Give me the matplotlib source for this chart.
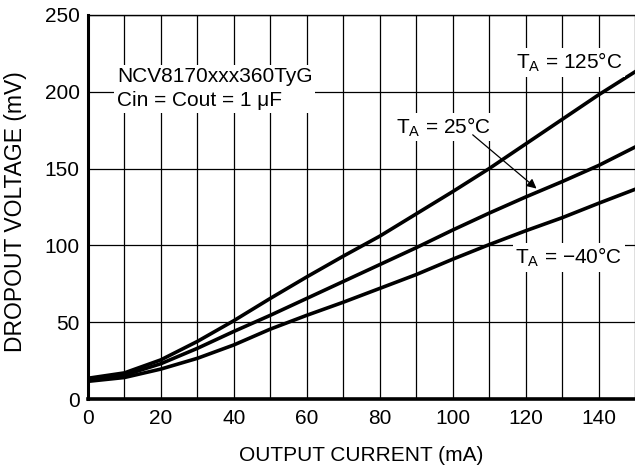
import numpy as np
import matplotlib
matplotlib.use("Agg")
import matplotlib.pyplot as plt

plt.rcParams['font.family'] = ['Liberation Sans', 'DejaVu Sans']
plt.rcParams['mathtext.fontset'] = 'custom'
plt.rcParams['mathtext.rm'] = 'Liberation Sans'
plt.rcParams['mathtext.it'] = 'Liberation Sans:italic'

# output current (mA)
i_out = [0, 10, 20, 30, 40, 50, 60, 70, 80, 90, 100, 110, 120, 130, 140, 150]
# dropout voltage (mV) per temperature
vdo_125 = [13.5, 17, 25.5, 37.5, 51, 65.5, 79.5, 93, 106, 120.5, 135, 150, 166, 182, 198, 213]
vdo_25 = [12.5, 15.5, 23, 33, 44, 54.5, 65.5, 76.5, 87.5, 98.5, 110, 121, 131.5, 141.5, 152, 164]
vdo_m40 = [11.5, 14, 19.5, 26.5, 35.2, 45.5, 54.5, 63, 72, 81, 91, 100.5, 109.5, 118, 127.4, 136.5]

xticks = [0, 20, 40, 60, 80, 100, 120, 140]
yticks = [0, 50, 100, 150, 200, 250]

fig = plt.figure(figsize=(6.35, 4.65), dpi=100)
ax = fig.add_axes([88/635, 66/465, 547/635, 384/465])

fs = 15
for v in (vdo_125, vdo_25, vdo_m40):
    ax.plot(i_out, v, color='black', lw=2.6, solid_joinstyle='round', zorder=3)

ax.set_xlim(0, 150)
ax.set_ylim(0, 250)
ax.set_xticks(xticks)
ax.set_yticks(yticks)
ax.set_xticks(np.arange(0, 151, 10), minor=True)
ax.grid(which='major', axis='y', color='black', lw=0.9)
ax.grid(which='both', axis='x', color='black', lw=0.9)
ax.tick_params(which='both', length=0, labelsize=fs)
ax.tick_params(axis='x', pad=7)
ax.tick_params(axis='y', pad=6)
ax.spines['left'].set_linewidth(2.2)
ax.spines['bottom'].set_linewidth(2.6)
ax.spines['top'].set_linewidth(1.0)
ax.spines['right'].set_visible(False)

ax.set_xlabel('OUTPUT CURRENT (mA)', fontsize=fs)
ax.set_ylabel('DROPOUT VOLTAGE (mV)', fontsize=16.5)
ax.xaxis.set_label_coords(0.5, -0.123)
ax.yaxis.set_label_coords(-0.1115, 0.488)

box = dict(facecolor='white', edgecolor='none', pad=2)
ax.text(8, 202, 'NCV8170xxx360TyG\nCin = Cout = 1 \u03bcF', fontsize=fs,
        va='center', ha='left', linespacing=1.3, bbox=box, zorder=4)
ax.text(146.5, 219, 'T$_\\mathrm{A}$ = 125\u00b0C', fontsize=fs,
        ha='right', va='center', bbox=box, zorder=4)
ax.text(84.5, 177, 'T$_\\mathrm{A}$ = 25\u00b0C', fontsize=fs,
        ha='left', va='center', bbox=box, zorder=4)
ax.text(146.5, 92, 'T$_\\mathrm{A}$ = \u221240\u00b0C', fontsize=fs,
        ha='right', va='center', bbox=box, zorder=4)
ax.annotate('', xy=(123, 137), xytext=(105.5, 172),
            arrowprops=dict(arrowstyle='-|>', color='black', lw=0.9,
                            mutation_scale=14, shrinkA=0, shrinkB=0), zorder=4)

fig.savefig('out.png', dpi=100)
